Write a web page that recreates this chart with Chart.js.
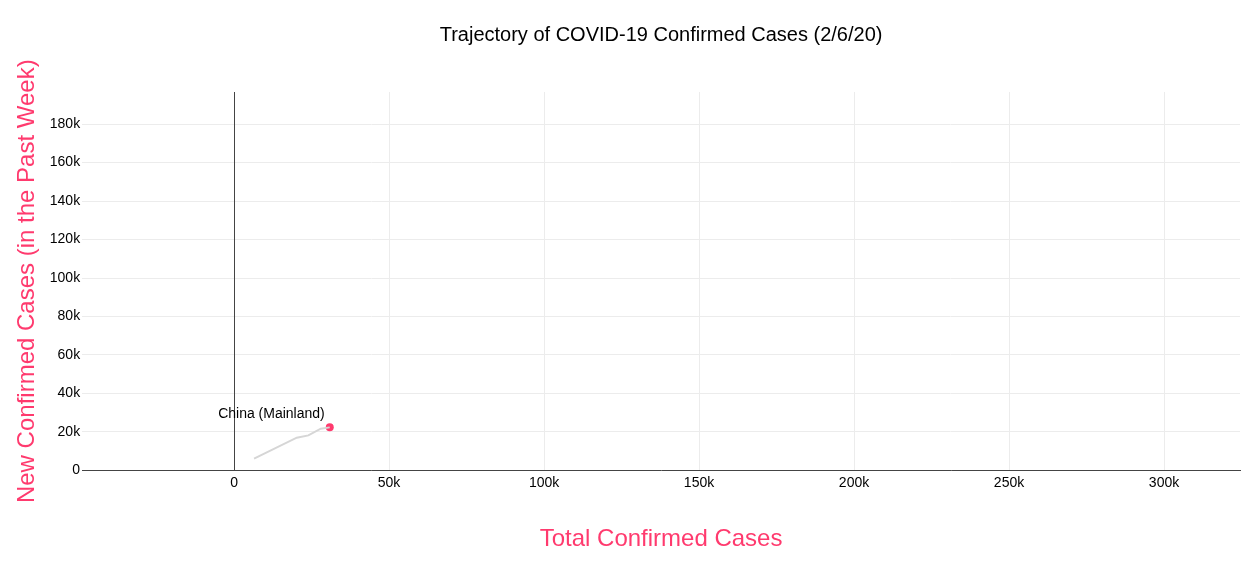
<!DOCTYPE html>
<html lang="en">
<head>
    <meta charset="UTF-8">
    <script src="https://cdn.jsdelivr.net/npm/chart.js"></script>
    <title>COVID-19 Trajectory</title>
    <style>
        body { margin: 0; background: #fff; }
        #wrap { width: 1257px; height: 561px; }
    </style>
</head>
<body>
<div id="wrap"><canvas id="trajectoryChart" width="1257" height="561"></canvas></div>
<script>
    // China (Mainland) trajectory
    const totalCases = [6450, 20230, 23970, 27970, 30870];
    const newCasesWeek = [6090, 17010, 18210, 21680, 22370];
    const countryName = 'China (Mainland)';
    const chartTitle = 'Trajectory of COVID-19 Confirmed Cases (2/6/20)';

    const xTicks = [0, 50000, 100000, 150000, 200000, 250000, 300000];
    const yTicks = [0, 20000, 40000, 60000, 80000, 100000, 120000, 140000, 160000, 180000];

    const pink = '#ff3a6e';
    const fontFam = '"Liberation Sans", Arial, sans-serif';
    const fmtK = v => v === 0 ? '0' : (v / 1000) + 'k';

    // title centred over the plot area, dark zero line, label by the last point
    const extras = {
        id: 'extras',
        beforeDatasetsDraw(chart) {
            const c = chart.ctx, a = chart.chartArea;
            const x0 = Math.round(chart.scales.x.getPixelForValue(0)) + 0.5;
            c.save();
            c.strokeStyle = '#444';
            c.lineWidth = 1;
            c.beginPath();
            c.moveTo(x0, a.top);
            c.lineTo(x0, a.bottom);
            c.stroke();
            c.restore();
        },
        afterDatasetsDraw(chart) {
            const c = chart.ctx, a = chart.chartArea;
            const pt = chart.getDatasetMeta(1).data[0];
            c.save();
            c.font = '14px ' + fontFam;
            c.fillStyle = '#000';
            c.textAlign = 'right';
            c.textBaseline = 'middle';
            c.fillText(countryName, pt.x - 5, pt.y - 13);
            c.font = '20px ' + fontFam;
            c.textAlign = 'center';
            c.fillText(chartTitle, (a.left + a.right) / 2, 35);
            c.restore();
        }
    };

    const ctx = document.getElementById('trajectoryChart').getContext('2d');
    new Chart(ctx, {
        type: 'line',
        data: {
            datasets: [{
                data: totalCases.map((x, i) => ({ x: x, y: newCasesWeek[i] })),
                borderColor: '#d6d6d6',
                borderWidth: 2,
                pointRadius: 0,
                tension: 0
            }, {
                data: [{ x: totalCases[totalCases.length - 1], y: newCasesWeek[newCasesWeek.length - 1] }],
                showLine: false,
                pointRadius: 4,
                pointBorderWidth: 0,
                pointBackgroundColor: pink,
                pointBorderColor: pink
            }]
        },
        options: {
            responsive: false,
            animation: false,
            layout: { padding: { left: 13, right: 17, top: 92, bottom: 7 } },
            plugins: {
                legend: { display: false },
                tooltip: { enabled: false },
                title: { display: false }
            },
            scales: {
                x: {
                    type: 'linear',
                    min: -49000,
                    max: 324500,
                    afterBuildTicks: s => { s.ticks = xTicks.map(v => ({ value: v })); },
                    ticks: {
                        color: '#000',
                        padding: 4,
                        font: { family: fontFam, size: 14 },
                        callback: fmtK,
                        maxRotation: 0
                    },
                    grid: { drawTicks: false, color: '#ececec', lineWidth: 1 },
                    border: { display: true, color: '#444' },
                    title: {
                        display: true,
                        text: 'Total Confirmed Cases',
                        color: pink,
                        font: { family: fontFam, size: 24 },
                        padding: { top: 30, bottom: 0 }
                    }
                },
                y: {
                    type: 'linear',
                    min: 0,
                    max: 196700,
                    afterBuildTicks: s => { s.ticks = yTicks.map(v => ({ value: v })); },
                    ticks: {
                        color: '#000',
                        padding: 2,
                        font: { family: fontFam, size: 14 },
                        callback: fmtK
                    },
                    grid: { drawTicks: false, color: '#ececec', lineWidth: 1 },
                    border: { display: false },
                    title: {
                        display: true,
                        text: 'New Confirmed Cases (in the Past Week)',
                        color: pink,
                        font: { family: fontFam, size: 24 },
                        padding: { top: 0, bottom: 6 }
                    }
                }
            }
        },
        plugins: [extras]
    });
</script>
</body>
</html>
